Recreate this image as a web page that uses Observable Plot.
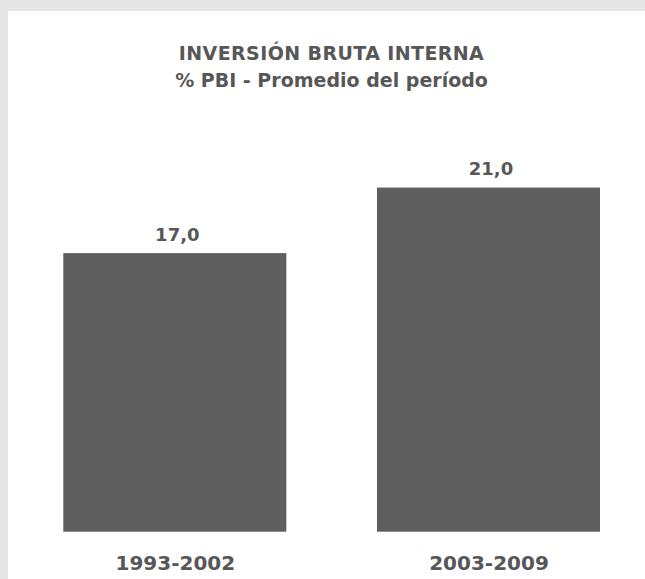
<!DOCTYPE html>
<html>
<head>
<meta charset="utf-8">
<script src="https://cdn.jsdelivr.net/npm/d3@7"></script>
<script src="https://cdn.jsdelivr.net/npm/@observablehq/plot@0.6"></script>
<style>
  html, body { margin: 0; padding: 0; overflow: hidden; }
  body { background: #e6e6e6; width: 645px; height: 579px; position: relative; font-family: "DejaVu Sans", sans-serif; }
  #panel { position: absolute; left: 8px; top: 11px; width: 637px; height: 568px; background: #ffffff; }
  #title { position: absolute; left: 10px; top: 29px; width: 627px; text-align: center; color: #575757; font-weight: bold; font-size: 19px; line-height: 27px; }
  #title .l1 { letter-spacing: 0.4px; }
  #chart { position: absolute; left: 0; top: 89px; }
</style>
</head>
<body>
<div id="panel">
  <div id="title">
    <div class="l1">INVERSIÓN BRUTA INTERNA</div>
    <div class="l2">% PBI - Promedio del período</div>
  </div>
  <div id="chart"></div>
</div>
<script>
const periodos = ["1993-2002", "2003-2009"];
const valores = [17.0, 21.0];

const data = periodos.map((p, i) => ({periodo: p, valor: valores[i]}));
const fmt = v => v.toFixed(1).replace(".", ",");

const chart = Plot.plot({
  width: 637,
  height: 479,
  marginLeft: 55.3,
  marginRight: 45,
  marginTop: 22,
  marginBottom: 47.3,
  style: {
    fontFamily: "DejaVu Sans",
    fontWeight: "bold",
    color: "#575757",
    background: "transparent"
  },
  x: {domain: periodos, paddingInner: 0.289, paddingOuter: 0, round: false, label: null},
  y: {domain: [0, 25], axis: null},
  marks: [
    Plot.barY(data, {x: "periodo", y: "valor", fill: "#5f5f5f"}),
    Plot.text(data, {
      x: "periodo", y: "valor", text: d => fmt(d.valor),
      lineAnchor: "bottom", dy: -13, dx: 2,
      fontSize: 18, fontWeight: "bold", fill: "#575757"
    }),
    Plot.axisX({tickSize: 0, tickPadding: 24, fontSize: 20, fontWeight: "bold", label: null})
  ]
});
document.getElementById("chart").appendChild(chart);
</script>
</body>
</html>
